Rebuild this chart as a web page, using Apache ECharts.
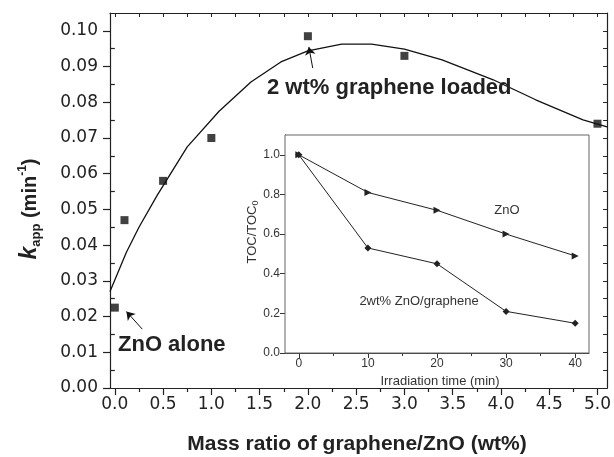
<!DOCTYPE html>
<html>
<head>
<meta charset="utf-8">
<script src="https://cdn.jsdelivr.net/npm/echarts@6/dist/echarts.min.js"></script>
<style>
html,body{margin:0;padding:0;background:#fff;}
#chart{width:614px;height:457px;}
</style>
</head>
<body>
<div id="chart"></div>
<script>
// Main plot data
const massRatio = [0.0, 0.1, 0.5, 1.0, 2.0, 3.0, 5.0];
const kApp = [0.0225, 0.047, 0.058, 0.070, 0.0985, 0.093, 0.074];
// Fitted curve
const fitX = [-0.05, 0.12, 0.25, 0.44, 0.75, 1.08, 1.41, 1.72, 2.0, 2.35, 2.66, 3.0, 3.39, 3.92, 4.36, 4.85, 5.1];
const fitK = [0.027, 0.038, 0.045, 0.054, 0.0675, 0.0775, 0.0857, 0.0913, 0.0944, 0.0963, 0.0963, 0.0949, 0.0919, 0.0863, 0.0807, 0.0751, 0.0731];
// Main tick labels
const xTicks = [0.0, 0.5, 1.0, 1.5, 2.0, 2.5, 3.0, 3.5, 4.0, 4.5, 5.0];
const xMinor = [0.25, 0.75, 1.25, 1.75, 2.25, 2.75, 3.25, 3.75, 4.25, 4.75];
const xTop = [0, 0.25, 0.5, 0.75, 1, 1.25, 1.5, 1.75, 2, 2.25, 2.5, 2.75, 3, 3.25, 3.5, 3.75, 4, 4.25, 4.5, 4.75, 5];
const yTicks = [0.00, 0.01, 0.02, 0.03, 0.04, 0.05, 0.06, 0.07, 0.08, 0.09, 0.10];
const yMinor = [0.005, 0.015, 0.025, 0.035, 0.045, 0.055, 0.065, 0.075, 0.085, 0.095];
const yRight = yTicks.concat(yMinor);
// Inset data
const irrTime = [0, 10, 20, 30, 40];
const tocZnO = [1.0, 0.81, 0.72, 0.60, 0.49];
const tocGraphene = [1.0, 0.53, 0.45, 0.21, 0.15];
const insetXTicks = [0, 10, 20, 30, 40];
const insetXMinor = [5, 15, 25, 35];
const insetYTicks = [0.0, 0.2, 0.4, 0.6, 0.8, 1.0];
const insetYMinor = [0.1, 0.3, 0.5, 0.7, 0.9];

const zip = (a, b) => a.map((v, i) => [v, b[i]]);
const INK = '#222';
const tickFont = {fontFamily: 'DejaVu Sans', fontSize: 17, color: INK};
const insetFont = {fontFamily: 'Liberation Sans', fontSize: 12, color: '#333'};

function hiddenAxis(extra) {
  return Object.assign({
    type: 'value',
    splitLine: {show: false},
    axisLabel: {show: false},
    axisLine: {show: false}
  }, extra);
}

const chart = echarts.init(document.getElementById('chart'), null, {renderer: 'canvas'});
chart.setOption({
  animation: false,
  backgroundColor: '#fff',
  grid: [
    {left: 110, top: 13, right: 2, bottom: 69, show: false},
    {left: 285, top: 135, width: 304, height: 218, show: true, borderColor: '#666', borderWidth: 1, backgroundColor: '#fff', z: 3}
  ],
  xAxis: [
    {
      gridIndex: 0, type: 'value', min: -0.05, max: 5.1, position: 'bottom',
      axisLine: {show: true, onZero: false, lineStyle: {color: INK, width: 1.2}},
      axisTick: {show: true, customValues: xTicks, length: 7, lineStyle: {color: INK, width: 1.2}},
      axisLabel: Object.assign({customValues: xTicks, margin: 8, formatter: v => v.toFixed(1)}, tickFont),
      splitLine: {show: false}
    },
    hiddenAxis({
      gridIndex: 0, min: -0.05, max: 5.1, position: 'top',
      axisLine: {show: true, onZero: false, lineStyle: {color: INK, width: 1.2}},
      axisTick: {show: true, inside: true, customValues: xTop, length: 4, lineStyle: {color: INK}}
    }),
    hiddenAxis({
      gridIndex: 0, min: -0.05, max: 5.1, position: 'bottom',
      axisTick: {show: true, customValues: xMinor, length: 4, lineStyle: {color: INK, width: 1.2}}
    }),
    {
      gridIndex: 1, type: 'value', min: -2, max: 42, position: 'bottom',
      axisLine: {show: true, onZero: false, lineStyle: {color: '#333', width: 1}},
      axisTick: {show: true, customValues: insetXTicks, length: 5, lineStyle: {color: '#333'}},
      axisLabel: Object.assign({customValues: insetXTicks, margin: 5}, insetFont),
      splitLine: {show: false}
    },
    hiddenAxis({
      gridIndex: 1, min: -2, max: 42, position: 'bottom',
      axisTick: {show: true, customValues: insetXMinor, length: 3, lineStyle: {color: '#333'}}
    })
  ],
  yAxis: [
    {
      gridIndex: 0, type: 'value', min: 0, max: 0.105, position: 'left',
      axisLine: {show: true, onZero: false, lineStyle: {color: INK, width: 1.2}},
      axisTick: {show: true, customValues: yTicks, length: 7, lineStyle: {color: INK, width: 1.2}},
      axisLabel: Object.assign({customValues: yTicks, margin: 12, formatter: v => v.toFixed(2)}, tickFont),
      splitLine: {show: false}
    },
    hiddenAxis({
      gridIndex: 0, min: 0, max: 0.105, position: 'right',
      axisLine: {show: true, onZero: false, lineStyle: {color: INK, width: 1.2}},
      axisTick: {show: true, inside: true, customValues: yRight, length: 4, lineStyle: {color: INK}}
    }),
    hiddenAxis({
      gridIndex: 0, min: 0, max: 0.105, position: 'left',
      axisTick: {show: true, customValues: yMinor, length: 4, lineStyle: {color: INK, width: 1.2}}
    }),
    {
      gridIndex: 1, type: 'value', min: 0, max: 1.1, position: 'left',
      axisLine: {show: true, onZero: false, lineStyle: {color: '#333', width: 1}},
      axisTick: {show: true, customValues: insetYTicks, length: 5, lineStyle: {color: '#333'}},
      axisLabel: Object.assign({customValues: insetYTicks, margin: 5, formatter: v => v.toFixed(1)}, insetFont),
      splitLine: {show: false}
    },
    hiddenAxis({
      gridIndex: 1, min: 0, max: 1.1, position: 'left',
      axisTick: {show: true, customValues: insetYMinor, length: 3, lineStyle: {color: '#333'}}
    })
  ],
  series: [
    {
      type: 'line', xAxisIndex: 0, yAxisIndex: 0,
      data: zip(fitX, fitK), showSymbol: false, symbol: 'none', smooth: false,
      lineStyle: {color: '#111', width: 1.3},
      silent: true,
      markLine: {
        silent: true, symbol: ['none', 'arrow'], symbolSize: 8,
        label: {show: false},
        lineStyle: {color: '#111', width: 1, type: 'solid'},
        emphasis: {disabled: true},
        data: [
          [{coord: [2.05, 0.0896]}, {coord: [2.01, 0.0955]}],
          [{coord: [0.284, 0.0165]}, {coord: [0.12, 0.0214]}]
        ]
      }
    },
    {
      type: 'scatter', xAxisIndex: 0, yAxisIndex: 0,
      data: zip(massRatio, kApp), symbol: 'rect', symbolSize: 8,
      itemStyle: {color: '#111'}, silent: true
    },
    {
      type: 'line', xAxisIndex: 3, yAxisIndex: 3, z: 5,
      data: zip(irrTime, tocZnO), symbol: 'triangle', symbolRotate: -90, symbolSize: 7,
      lineStyle: {color: '#222', width: 1}, itemStyle: {color: '#222'}, silent: true
    },
    {
      type: 'line', xAxisIndex: 3, yAxisIndex: 3, z: 5,
      data: zip(irrTime, tocGraphene), symbol: 'diamond', symbolSize: 7,
      lineStyle: {color: '#222', width: 1}, itemStyle: {color: '#222'}, silent: true
    }
  ],
  graphic: [
    {type: 'text', x: 267, y: 88, z: 10, style: {text: '2 wt% graphene loaded', font: 'bold 22px "Liberation Sans"', fill: '#222', align: 'left', verticalAlign: 'middle'}},
    {type: 'text', x: 118, y: 345, z: 10, style: {text: 'ZnO alone', font: 'bold 22px "Liberation Sans"', fill: '#222', align: 'left', verticalAlign: 'middle'}},
    {type: 'text', x: 357, y: 444, z: 10, style: {text: 'Mass ratio of graphene/ZnO (wt%)', font: 'bold 21px "Liberation Sans"', fill: '#222', align: 'center', verticalAlign: 'middle'}},
    {type: 'text', x: 30, y: 209, rotation: Math.PI / 2, z: 10, style: {
      text: '{k|k}{s|app}{n| (min}{p|-1}{n|)}', align: 'center', verticalAlign: 'middle', fill: '#222',
      rich: {
        k: {fontFamily: 'Liberation Sans', fontWeight: 'bold', fontStyle: 'italic', fontSize: 23, lineHeight: 26, verticalAlign: 'middle'},
        s: {fontFamily: 'Liberation Sans', fontWeight: 'bold', fontSize: 13, lineHeight: 13, verticalAlign: 'bottom', padding: [0, 0, 0, 0]},
        n: {fontFamily: 'Liberation Sans', fontWeight: 'bold', fontSize: 20, lineHeight: 26, verticalAlign: 'middle'},
        p: {fontFamily: 'Liberation Sans', fontWeight: 'bold', fontSize: 12, lineHeight: 12, verticalAlign: 'top'}
      }
    }},
    {type: 'text', x: 507, y: 210, z: 10, style: {text: 'ZnO', font: '13px "Liberation Sans"', fill: '#333', align: 'center', verticalAlign: 'middle'}},
    {type: 'text', x: 419, y: 301, z: 10, style: {text: '2wt% ZnO/graphene', font: '13px "Liberation Sans"', fill: '#333', align: 'center', verticalAlign: 'middle'}},
    {type: 'text', x: 440, y: 381, z: 10, style: {text: 'Irradiation time (min)', font: '13px "Liberation Sans"', fill: '#333', align: 'center', verticalAlign: 'middle'}},
    {type: 'text', x: 252, y: 232, rotation: Math.PI / 2, z: 10, style: {
      text: '{n|TOC/TOC}{s|0}', align: 'center', verticalAlign: 'middle', fill: '#333',
      rich: {
        n: {fontFamily: 'Liberation Sans', fontSize: 13, lineHeight: 16, verticalAlign: 'middle'},
        s: {fontFamily: 'Liberation Sans', fontSize: 9, lineHeight: 9, verticalAlign: 'bottom'}
      }
    }}
  ]
});
</script>
</body>
</html>
